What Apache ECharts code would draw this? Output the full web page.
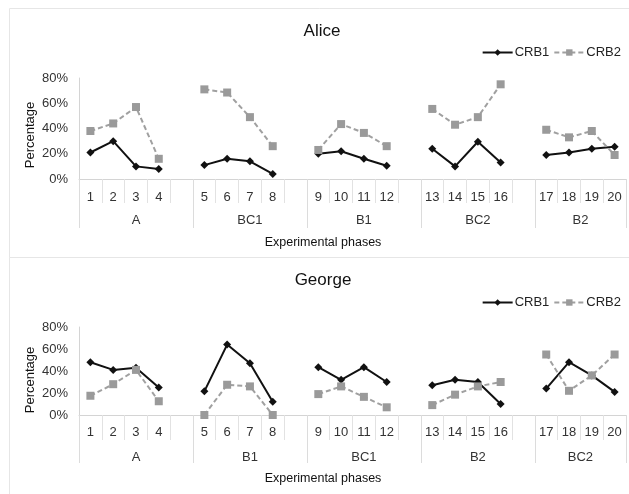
<!DOCTYPE html>
<html>
<head>
<meta charset="utf-8">
<script src="https://cdn.jsdelivr.net/npm/echarts@6/dist/echarts.min.js"></script>
<style>html,body{margin:0;padding:0;background:#fff}#c{width:629px;height:494px}</style>
</head>
<body>
<div id="c"></div>
<script>
// ---- Data ----
const sessions = ['1','2','3','4','','5','6','7','8','','9','10','11','12','','13','14','15','16','','17','18','19','20'];
const alicePhases = ['A','BC1','B1','BC2','B2'];
const georgePhases = ['A','B1','BC1','B2','BC2'];
const aliceCRB1 = [21,30,10,8,null, 11,16,14,4,null, 20,22,16,10.5,null, 24,10,29.5,13,null, 19,21,24,25.5];
const aliceCRB2 = [38,44,57,16,null, 71,68.5,49,26,null, 23,43.5,36.5,26,null, 55.5,43,49,75,null, 39,33,38,19];
const georgeCRB1 = [48,41,43,25,null, 21.5,64,47,12,null, 43.5,32,43.5,30,null, 27,32,30,10,null, 24,48,36,21];
const georgeCRB2 = [17.5,28,41,12.5,null, 0,27.5,26,0,null, 19,26,16.5,7,null, 9,18.5,26,30,null, 55,22,36,55];
const yTicks = [0,20,40,60,80];
const phaseCenters = [2.5,7.5,12.5,17.5,22];

const chart = echarts.init(document.getElementById('c'), null, {renderer:'canvas'});
const FONT = 'Liberation Sans, Arial, sans-serif';
const axisGrey = '#d4d4d4';

function phaseFmt(phases){
  return function(v){
    for (let i=0;i<phaseCenters.length;i++){ if (Math.abs(v-phaseCenters[i])<1e-6) return phases[i]; }
    return '';
  };
}

const grids = [
  {left:79, width:552, top:78, height:101},
  {left:79, width:552, top:327, height:88}
];
const xAxes = [], yAxes = [];
[[alicePhases,24,49,12,35],[georgePhases,25,48,11,36]].forEach((cfg,gi)=>{
  const [phases, shortLen, longLen, numMargin, phaseMargin] = cfg;
  xAxes.push({
    type:'category', gridIndex:gi, data:sessions, boundaryGap:true,
    axisLine:{show:true, lineStyle:{color:axisGrey, width:1}},
    axisTick:{show:true, interval:0, length:shortLen, lineStyle:{color:'#e2e2e2'}},
    axisLabel:{interval:0, margin:numMargin, color:'#333', fontSize:13, fontFamily:FONT},
    splitLine:{show:false}
  });
  xAxes.push({
    type:'category', gridIndex:gi, data:sessions, boundaryGap:true, position:'bottom',
    axisLine:{show:false},
    axisTick:{show:true, interval:function(i){return i%5===0;}, length:longLen, lineStyle:{color:'#dcdcdc'}},
    axisLabel:{show:false}, splitLine:{show:false}
  });
  xAxes.push({
    type:'value', gridIndex:gi, min:0, max:24, interval:0.5, position:'bottom',
    axisLine:{show:false}, axisTick:{show:false}, splitLine:{show:false},
    axisLabel:{margin:phaseMargin, color:'#333', fontSize:13, fontFamily:FONT, formatter:phaseFmt(phases), showMinLabel:true, showMaxLabel:true}
  });
  yAxes.push({
    type:'value', gridIndex:gi, min:yTicks[0], max:yTicks[yTicks.length-1], interval:20,
    axisLine:{show:true, lineStyle:{color:axisGrey}},
    axisTick:{show:false}, splitLine:{show:false},
    axisLabel:{margin:11, color:'#333', fontSize:13, fontFamily:FONT, formatter:'{value}%'}
  });
});

function s1(name, data, gi){
  return {name, type:'line', xAxisIndex:gi*3, yAxisIndex:gi, data, connectNulls:false,
    symbol:'diamond', symbolSize:8, showSymbol:true,
    lineStyle:{color:'#111', width:2}, itemStyle:{color:'#111'}, animation:false};
}
function s2(name, data, gi){
  return {name, type:'line', xAxisIndex:gi*3, yAxisIndex:gi, data, connectNulls:false,
    symbol:'rect', symbolSize:8, showSymbol:true,
    lineStyle:{color:'#a0a0a0', width:2, type:[5,3]}, itemStyle:{color:'#9a9a9a'}, animation:false};
}

function legendAt(top){
  return {top:top, right:3, itemWidth:30, itemHeight:8, itemGap:4,
    textStyle:{color:'#222', fontSize:13, fontFamily:FONT, padding:[0,0,0,-3]},
    data:['CRB1','CRB2']};
}

function txt(x,y,text,size,extra){
  return Object.assign({type:'text', x:x, y:y, silent:true,
    style:{text:text, fill:'#111', font:size+'px '+FONT, align:'center', verticalAlign:'middle'}}, extra||{});
}

const option = {
  backgroundColor:'#fff',
  animation:false,
  grid:grids,
  xAxis:xAxes,
  yAxis:yAxes,
  legend:[legendAt(41), legendAt(291)],
  series:[
    s1('CRB1', aliceCRB1, 0), s2('CRB2', aliceCRB2, 0),
    s1('CRB1', georgeCRB1, 1), s2('CRB2', georgeCRB2, 1)
  ],
  graphic:[
    {type:'rect', silent:true, shape:{x:9.5, y:8.5, width:640, height:249}, style:{fill:null, stroke:'#e6e6e6', lineWidth:1}},
    {type:'rect', silent:true, shape:{x:9.5, y:257.5, width:640, height:260}, style:{fill:null, stroke:'#e6e6e6', lineWidth:1}},
    txt(322, 31, 'Alice', 17),
    txt(323, 280, 'George', 17),
    txt(323, 243, 'Experimental phases', 12.5),
    txt(323, 479, 'Experimental phases', 12.5),
    txt(30, 135, 'Percentage', 13, {rotation:Math.PI/2}),
    txt(30, 380, 'Percentage', 13, {rotation:Math.PI/2})
  ]
};
chart.setOption(option);
</script>
</body>
</html>
